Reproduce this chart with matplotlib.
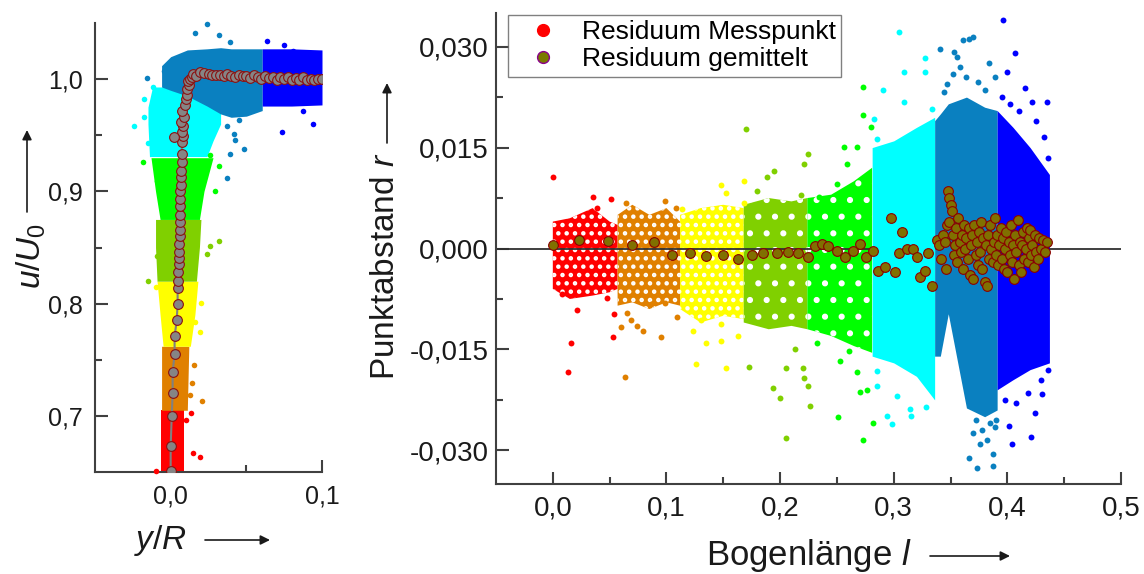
import numpy as np
import matplotlib.pyplot as plt
from matplotlib.lines import Line2D

plt.rcParams['font.family'] = ['Liberation Sans', 'DejaVu Sans']
plt.rcParams['mathtext.fontset'] = 'custom'
plt.rcParams['mathtext.rm'] = 'Liberation Sans'
plt.rcParams['mathtext.it'] = 'Liberation Sans:italic'
plt.rcParams['hatch.linewidth'] = 2.0

seg_colors = ['#FF0000', '#E08000', '#FFFF00', '#80D000',
              '#00FF00', '#00FFFF', '#0A80C0', '#0000FF']

# ---------------- left panel: u/U0 over y/R ----------------
# dense cores of the lower segments (u, x_lo, x_hi)
left_u = [[0.650, 0.705], [0.705, 0.762], [0.762, 0.790, 0.820],
          [0.820, 0.850, 0.875], [0.875, 0.900, 0.930],
          [0.931, 0.945, 0.960, 0.975, 0.993]]
left_xlo = [[-0.0065, -0.0065], [-0.006, -0.006], [-0.005, -0.007, -0.009],
            [-0.009, -0.010, -0.010], [-0.007, -0.010, -0.013],
            [-0.014, -0.0145, -0.015, -0.015, -0.012]]
left_xhi = [[0.009, 0.009], [0.011, 0.012], [0.013, 0.016, 0.018],
            [0.017, 0.019, 0.020], [0.019, 0.022, 0.028],
            [0.024, 0.028, 0.033, 0.033, 0.025]]
# upper segments (x, u_lo, u_hi)
steel_x = [-0.006, 0.000, 0.011, 0.024, 0.033, 0.040, 0.050, 0.0605]
steel_ulo = [0.993, 0.990, 0.985, 0.976, 0.969, 0.966, 0.967, 0.972]
steel_uhi = [1.012, 1.020, 1.026, 1.027, 1.028, 1.027, 1.027, 1.027]
blue_x = [0.0605, 0.080, 0.100]
blue_ulo = [0.976, 0.976, 0.977]
blue_uhi = [1.027, 1.027, 1.026]

# scattered single points outside the cores
left_out_x = [[-0.0099, 0.0149, 0.0197, 0.0132, 0.0099],
              [0.0208, 0.0154, 0.0143, 0.013],
              [0.0202, 0.0193, 0.016, -0.010],
              [-0.0153, 0.0318, 0.0263, 0.024, -0.0088],
              [-0.0186, 0.0318, 0.0296, 0.0263, -0.0088],
              [-0.0241, -0.0175, -0.012, -0.0175, -0.0153],
              [0.024, 0.0164, 0.0318, 0.0395, -0.0044, -0.0158, 0.0417,
               0.0428, 0.0482, 0.0395, 0.0373, 0.0373, 0.045],
              [0.0636, 0.0746, 0.081, 0.0735, 0.0939, 0.0877]]
left_out_u = [[0.651, 0.6667, 0.663, 0.703, 0.696],
              [0.713, 0.745, 0.729, 0.719],
              [0.801, 0.775, 0.784, 0.815],
              [0.820, 0.856, 0.851, 0.844, 0.842],
              [0.926, 0.923, 0.900, 0.932, 0.909],
              [0.958, 0.966, 0.9926, 0.982, 0.943],
              [1.049, 1.041, 1.0396, 1.0327, 1.0074, 1.0006, 0.951,
               0.946, 0.9375, 0.933, 0.912, 0.958, 0.964],
              [1.034, 1.030, 1.025, 0.953, 0.960, 0.972]]

# averaged profile
prof_x = [0.0, 0.0, 0.0007, 0.0013, 0.0013, 0.0026, 0.0026, 0.004, 0.0046,
          0.0046, 0.0046, 0.0046, 0.0053, 0.0053, 0.0053, 0.0053, 0.0059,
          0.0059, 0.0059, 0.006, 0.006, 0.0063, 0.0063, 0.0066, 0.0066,
          0.0066, 0.0072, 0.0072, 0.0075, 0.0084, 0.0075, 0.0079, 0.0066,
          0.0085, 0.0077, 0.0095, 0.0099, 0.0105, 0.011, 0.012, 0.0115,
          0.013, 0.014, 0.015, 0.017, 0.0197, 0.022, 0.025, 0.0275, 0.030,
          0.0325, 0.035, 0.0375, 0.040, 0.0425, 0.045, 0.0475, 0.050, 0.0525,
          0.055, 0.0575, 0.060, 0.0625, 0.065, 0.0675, 0.070, 0.0725, 0.075,
          0.0775, 0.080, 0.0825, 0.085, 0.0875, 0.090, 0.0925, 0.095, 0.0975,
          0.100]
prof_u = [0.651, 0.673, 0.700, 0.720, 0.739, 0.755, 0.771, 0.785, 0.800,
          0.814, 0.820, 0.828, 0.835, 0.841, 0.846, 0.853, 0.860, 0.866,
          0.873, 0.879, 0.887, 0.893, 0.900, 0.906, 0.9125, 0.918, 0.926,
          0.933, 0.944, 0.949, 0.953, 0.958, 0.962, 0.966, 0.972, 0.977,
          0.982, 0.986, 0.991, 0.995, 0.998, 1.000, 1.002, 1.0045, 1.003,
          1.006, 1.0055, 1.005, 1.004, 1.0035, 1.004, 1.003, 1.0045, 1.003,
          1.002, 1.004, 1.0025, 1.003, 1.001, 1.0035, 1.002, 1.0005, 1.003,
          1.001, 1.002, 0.9995, 1.0015, 1.000, 1.002, 0.999, 1.001, 0.9995,
          1.0015, 0.999, 1.0005, 0.9995, 1.000, 1.0005]
stray_x = [0.002]
stray_u = [0.948]

# ---------------- right panel: residuals over arc length ----------------
seg_l = [[0.000, 0.015, 0.035, 0.050, 0.057],
         [0.057, 0.070, 0.085, 0.100, 0.112],
         [0.112, 0.130, 0.150, 0.168],
         [0.168, 0.190, 0.210, 0.224],
         [0.224, 0.245, 0.265, 0.281],
         [0.281, 0.300, 0.320, 0.336],
         [0.336, 0.341, 0.348, 0.364, 0.380, 0.391],
         [0.391, 0.405, 0.420, 0.437]]
seg_lo = [[-0.006, -0.0075, -0.007, -0.0065, -0.006],
          [-0.0085, -0.008, -0.009, -0.008, -0.0085],
          [-0.009, -0.011, -0.010, -0.0105],
          [-0.011, -0.012, -0.0115, -0.012],
          [-0.012, -0.013, -0.0145, -0.0155],
          [-0.016, -0.017, -0.019, -0.0225],
          [-0.016, -0.016, -0.0097, -0.0237, -0.025, -0.024],
          [-0.021, -0.0195, -0.018, -0.017]]
seg_hi = [[0.004, 0.0045, 0.006, 0.004, 0.0035],
          [0.005, 0.0065, 0.005, 0.006, 0.004],
          [0.005, 0.006, 0.0065, 0.006],
          [0.0065, 0.0075, 0.007, 0.0075],
          [0.0075, 0.008, 0.010, 0.012],
          [0.015, 0.016, 0.018, 0.0195],
          [0.019, 0.020, 0.0215, 0.0225, 0.021, 0.0205],
          [0.0205, 0.018, 0.015, 0.011]]
# white speckle pattern over the thinner clouds
seg_hatch = ['..', '..', '..', '.', '.', None, None, None]

out_l = [[0.0006, 0.035, 0.051, 0.039, 0.008, 0.0217, 0.0158, 0.0138, 0.048,
          0.0536, 0.0527],
         [0.064, 0.099, 0.108, 0.0656, 0.060, 0.0685, 0.0744, 0.0797, 0.0636,
          0.095, 0.0984, 0.109, 0.086],
         [0.1476, 0.168, 0.168, 0.114, 0.152, 0.123, 0.1257, 0.135, 0.148,
          0.152, 0.163, 0.130, 0.1476],
         [0.1696, 0.225, 0.221, 0.1945, 0.1886, 0.180, 0.218, 0.173, 0.2056,
          0.2206, 0.1935, 0.200, 0.226, 0.2053, 0.225, 0.2135, 0.2214],
         [0.273, 0.273, 0.280, 0.256, 0.2677, 0.259, 0.250, 0.234, 0.251,
          0.2815, 0.2727, 0.2707, 0.2765, 0.2604, 0.2677, 0.253, 0.2326],
         [0.3043, 0.291, 0.3087, 0.3278, 0.3278, 0.3337, 0.3087, 0.2823,
          0.2853, 0.294, 0.2985, 0.315, 0.3146, 0.3287, 0.303, 0.2853, 0.2853],
         [0.341, 0.3526, 0.3614, 0.3702, 0.366, 0.3834, 0.389, 0.3746, 0.3585,
          0.344, 0.347, 0.352, 0.356, 0.364, 0.380, 0.366, 0.373, 0.3873,
          0.376, 0.3825, 0.3873, 0.370, 0.389, 0.372, 0.378, 0.385, 0.390],
         [0.3966, 0.4069, 0.3996, 0.4157, 0.4347, 0.4215, 0.4318, 0.395, 0.402,
          0.410, 0.425, 0.436, 0.4209, 0.404, 0.4244, 0.401, 0.4303, 0.398,
          0.408, 0.418, 0.430, 0.436]]
out_r = [[0.0107, 0.0076, 0.0074, 0.006, -0.0068, -0.0092, -0.014, -0.0183,
          -0.0074, -0.0097, -0.0131],
         [0.0067, 0.007, 0.006, -0.0096, -0.0117, -0.0107, -0.0115, -0.0123,
          -0.0191, -0.0131, -0.0081, -0.0102, -0.0082],
         [0.0095, 0.0101, 0.0067, 0.0058, 0.0083, -0.0122, -0.0171, -0.0141,
          -0.0138, -0.0178, -0.013, -0.0107, -0.0112],
         [0.0177, 0.014, 0.0126, 0.0115, 0.0106, 0.0086, 0.008, -0.0176,
          -0.0178, -0.0178, -0.0207, -0.0222, -0.0234, -0.0281, -0.0204,
          -0.0149, -0.0192],
         [0.024, 0.0198, 0.0181, 0.0151, 0.0151, 0.0126, 0.0096, 0.0076,
          -0.0251, -0.0259, -0.0284, -0.0214, -0.021, -0.0152, -0.0184,
          -0.0167, -0.014],
         [0.0322, 0.0235, 0.0263, 0.0263, 0.0283, 0.0208, 0.0218, 0.0193,
          0.0163, -0.0249, -0.0261, -0.0249, -0.0239, -0.0236, -0.0219,
          -0.0204, -0.0182],
         [0.0296, 0.0292, 0.031, 0.0315, 0.0312, 0.0275, 0.0255, 0.0248, 0.027,
          0.0233, 0.0245, 0.026, 0.0285, 0.0255, 0.0235, -0.0311, -0.0326,
          -0.0323, -0.0291, -0.0284, -0.0306, -0.0274, -0.0266, -0.0255,
          -0.027, -0.026, -0.0255],
         [0.034, 0.029, 0.0263, 0.0238, 0.0218, 0.0218, 0.0166, 0.0225, 0.0215,
          0.0205, 0.019, 0.0135, -0.028, -0.0291, -0.0244, -0.0264, -0.0216,
          -0.0225, -0.023, -0.0215, -0.0195, -0.018]]

avg_l = [0.000, 0.023, 0.049, 0.070, 0.089, 0.105, 0.121, 0.135, 0.150, 0.163,
         0.175, 0.185, 0.197, 0.207, 0.216, 0.225, 0.231, 0.237, 0.2425, 0.250,
         0.2575, 0.2645, 0.2705, 0.276, 0.282, 0.2865, 0.2925, 0.2976, 0.3014,
         0.305, 0.3076, 0.3117, 0.317, 0.3205, 0.3234, 0.3278, 0.330, 0.3337,
         0.338, 0.340, 0.342, 0.343, 0.345, 0.346, 0.347, 0.348, 0.349, 0.350,
         0.351, 0.349, 0.352, 0.353, 0.354, 0.355, 0.356, 0.357, 0.358, 0.359,
         0.360, 0.361, 0.362, 0.363, 0.364, 0.365, 0.366, 0.367, 0.368, 0.369,
         0.370, 0.371, 0.372, 0.373, 0.374, 0.375, 0.376, 0.377, 0.378, 0.379,
         0.380, 0.381, 0.382, 0.383, 0.384, 0.385, 0.386, 0.387, 0.388, 0.389,
         0.390, 0.391, 0.392, 0.393, 0.394, 0.395, 0.396, 0.397, 0.398, 0.399,
         0.400, 0.401, 0.402, 0.403, 0.404, 0.405, 0.406, 0.407, 0.408, 0.409,
         0.410, 0.411, 0.412, 0.413, 0.414, 0.415, 0.416, 0.417, 0.418, 0.419,
         0.420, 0.421, 0.422, 0.423, 0.424, 0.425, 0.427, 0.428, 0.430, 0.431,
         0.433, 0.435]
avg_r = [0.00045, 0.0012, 0.0011, 0.00045, 0.0009, -0.0009, -0.0006, -0.0011,
         -0.0009, -0.0015, -0.001, -0.0006, -0.0006, -0.00045, -0.0006, -0.0013,
         0.0003, 0.0006, 0.0003, -0.0004, -0.0013, -0.0003, 0.0006, -0.0013,
         -0.0003, -0.0033, -0.0028, 0.0045, -0.0035, -0.0007, 0.0024, 0.0, 0.0,
         -0.0013, -0.0043, -0.0033, -0.0007, -0.0055, 0.0012, 0.0005, -0.0015,
         0.002, 0.001, -0.003, 0.0035, 0.0085, 0.0075, 0.0065, 0.0055, 0.004,
         0.002, -0.001, 0.0005, 0.003, -0.002, 0.0045, 0.001, -0.0005, 0.002,
         -0.003, 0.0035, 0.0, 0.0015, -0.0015, 0.003, -0.004, 0.0005, 0.002,
         -0.0045, 0.0035, -0.001, 0.001, -0.0025, 0.0025, -0.0005, 0.004, -0.003,
         0.0015, -0.005, 0.0005, -0.0055, 0.002, -0.0015, 0.0035, 0.0, -0.002,
         0.001, 0.0045, -0.001, 0.002, -0.0025, 0.0005, 0.003, -0.0015, 0.0015,
         -0.003, 0.0, 0.0025, -0.0035, 0.001, -0.001, 0.0035, -0.002, 0.0005,
         -0.0045, 0.002, -0.0005, 0.0042, -0.0025, 0.001, -0.0035, 0.0005,
         0.0025, -0.0015, 0.0, 0.003, -0.002, 0.0015, 0.0027, -0.001, 0.0005,
         -0.0028, 0.002, -0.0005, -0.0015, 0.0015, 0.0, 0.0012, -0.0005, 0.001]

axis_col = '#404040'

fig = plt.figure(figsize=(11.44, 5.74), dpi=100)
W, H = 1144, 574
axL = fig.add_axes([95 / W, 1 - 472 / H, (322 - 95) / W, (472 - 23) / H])
axR = fig.add_axes([496 / W, 1 - 484 / H, (1121 - 496) / W, (484 - 13) / H])

# left panel
for i in range(6):
    axL.fill_betweenx(left_u[i], left_xlo[i], left_xhi[i],
                      color=seg_colors[i], lw=0, zorder=2)
axL.fill_between(steel_x, steel_ulo, steel_uhi, color=seg_colors[6], lw=0, zorder=2)
axL.fill_between(blue_x, blue_ulo, blue_uhi, color=seg_colors[7], lw=0, zorder=2)
for i in range(8):
    axL.scatter(left_out_x[i], left_out_u[i], s=16, color=seg_colors[i],
                lw=0, zorder=3, clip_on=False)
axL.plot(prof_x, prof_u, '-', color='#808080', lw=1.5, zorder=4)
axL.plot(prof_x, prof_u, 'o', ls='none', ms=7, mfc='#858585', mec='#8B1010',
         mew=0.8, zorder=5)
axL.plot(stray_x, stray_u, 'o', ls='none', ms=7, mfc='#858585', mec='#8B1010',
         mew=0.8, zorder=5)

axL.set_xlim(-0.05, 0.1)
axL.set_ylim(0.65, 1.05)
axL.set_xticks([0.0, 0.1])
axL.set_xticklabels(['0,0', '0,1'])
axL.set_xticks([0.05], minor=True)
axL.set_yticks([0.7, 0.8, 0.9, 1.0])
axL.set_yticklabels(['0,7', '0,8', '0,9', '1,0'])
axL.set_yticks([0.75, 0.85, 0.95], minor=True)
axL.tick_params(axis='both', which='major', labelsize=18, pad=9)

# right panel: zero line shows through the speckled clouds, not the dense ones
axR.axhline(0, color='#303030', lw=1.3, zorder=2.5)
for i in range(8):
    if seg_hatch[i] is None:
        axR.fill_between(seg_l[i], seg_lo[i], seg_hi[i], color=seg_colors[i],
                         lw=0, zorder=2.6)
    else:
        px = seg_l[i] + seg_l[i][::-1]
        py = seg_hi[i] + seg_lo[i][::-1]
        axR.fill(px, py, facecolor=seg_colors[i], edgecolor='white',
                 hatch=seg_hatch[i], lw=0, zorder=2)
    axR.scatter(out_l[i], out_r[i], s=18, color=seg_colors[i], lw=0, zorder=3)
axR.plot(avg_l, avg_r, 'o', ls='none', ms=7, mfc='#807000', mec='#8B0000',
         mew=0.8, zorder=4)

axR.set_xlim(-0.05, 0.5)
axR.set_ylim(-0.035, 0.035)
axR.set_xticks([0.0, 0.1, 0.2, 0.3, 0.4, 0.5])
axR.set_xticklabels(['0,0', '0,1', '0,2', '0,3', '0,4', '0,5'])
axR.set_xticks([0.05, 0.15, 0.25, 0.35, 0.45], minor=True)
axR.set_yticks([-0.03, -0.015, 0.0, 0.015, 0.03])
axR.set_yticklabels(['-0,030', '-0,015', '0,000', '0,015', '0,030'])
axR.set_yticks([-0.0225, -0.0075, 0.0075, 0.0225], minor=True)
axR.tick_params(axis='x', which='major', labelsize=20, pad=8)
axR.tick_params(axis='y', which='major', labelsize=20, pad=5)

for ax in (axL, axR):
    for s in ('top', 'right'):
        ax.spines[s].set_visible(False)
    for s in ('left', 'bottom'):
        ax.spines[s].set_color(axis_col)
        ax.spines[s].set_linewidth(1.5)
    ax.tick_params(which='both', direction='in', color=axis_col, width=1.5,
                   labelcolor='#1a1a1a')
    ax.tick_params(which='major', length=9)
    ax.tick_params(which='minor', length=5)

handles = [Line2D([], [], marker='o', ls='none', ms=8.5, mfc='#FF0000', mec='#FF0000'),
           Line2D([], [], marker='o', ls='none', ms=8.5, mfc='#7A7A00',
                  mec='#8B008B', mew=1.0)]
leg = axR.legend(handles, ['Residuum Messpunkt', 'Residuum gemittelt'],
                 loc='upper left', bbox_to_anchor=(0.019, 0.996), fontsize=19,
                 frameon=True, fancybox=False, edgecolor='#606060',
                 borderaxespad=0, borderpad=0.2, labelspacing=0.12,
                 handlelength=2.3, handletextpad=0.3)
leg.get_frame().set_linewidth(1.0)
leg.set_zorder(10)

# axis labels with arrows
txt_col = '#1a1a1a'
fig.text(31 / W, 1 - 256 / H, r'$u/U_{\mathrm{0}}$', rotation=90, ha='center',
         va='center', fontsize=24, color=txt_col)
fig.text(160 / W, 1 - 540 / H, r'$y/R$', ha='center', va='center',
         fontsize=24, color=txt_col)
fig.text(386 / W, 1 - 266 / H, r'Punktabstand $r$', rotation=90, ha='center',
         va='center', fontsize=24, color=txt_col)
fig.text(809 / W, 1 - 565 / H, r'Bogenlänge $l$', ha='center', va='baseline',
         fontsize=25, color=txt_col)

arrows = [((27, 212), (27, 130)), ((205, 540), (270, 540)),
          ((387, 143), (387, 83)), ((930, 556), (1010, 556))]
for (x0, y0), (x1, y1) in arrows:
    axL.annotate('', xy=(x1 / W, 1 - y1 / H), xytext=(x0 / W, 1 - y0 / H),
                 xycoords='figure fraction', textcoords='figure fraction',
                 annotation_clip=False,
                 arrowprops=dict(arrowstyle='-|>', color=txt_col, lw=1.2,
                                 mutation_scale=14, shrinkA=0, shrinkB=0))

fig.savefig('out.png', dpi=100)
